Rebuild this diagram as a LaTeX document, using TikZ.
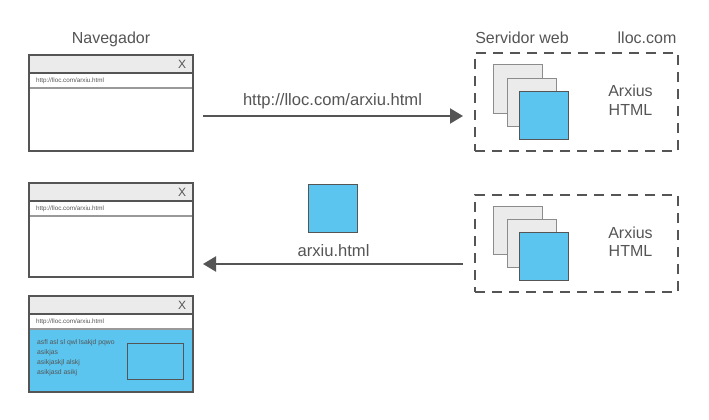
\documentclass[tikz,border=0pt]{standalone}
\usepackage{fontspec}
\setmainfont{Liberation Sans}
\usetikzlibrary{arrows.meta,calc}
\definecolor{ink}{HTML}{555555}
\definecolor{txt}{HTML}{555555}
\definecolor{bar}{HTML}{EBEBEB}
\definecolor{sky}{HTML}{5BC5EF}
\definecolor{mid}{HTML}{8C8C8C}
\definecolor{sep}{HTML}{999999}
\tikzset{
  winframe/.style={draw=ink, line width=2.4pt, fill=white, minimum width=164pt, inner sep=0pt, outer sep=0pt},
  bigtext/.style={text=txt, font=\fontsize{16}{18}\selectfont, inner sep=0pt},
  tinytext/.style={text=txt, font=\fontsize{6.3}{7}\selectfont, inner sep=0pt, anchor=west},
  bodytext/.style={text=txt, font=\fontsize{6.8}{7}\selectfont, inner sep=0pt, anchor=west},
  xmark/.style={text=txt, font=\fontsize{12}{12}\selectfont, inner sep=0pt},
  dashbox/.style={draw=ink, line width=2.2pt, dash pattern=on 10pt off 7pt, minimum width=203pt, inner sep=0pt, outer sep=0pt},
  graysq/.style={draw=mid, line width=1pt, fill=bar, minimum width=49pt, minimum height=48pt, inner sep=0pt},
  bluesq/.style={draw=ink, line width=1pt, fill=sky, minimum width=49pt, minimum height=48pt, inner sep=0pt},
  flow/.style={draw=ink, line width=2pt, -{Triangle[length=13pt,width=15pt]}},
}
\newcommand{\windowparts}[1]{%
  \fill[bar] ([shift={(1.2,1.2)}]#1.north west) rectangle ([shift={(-1.2,18)}]#1.north east);
  \draw[ink, line width=2pt] ([shift={(1.2,18)}]#1.north west) -- ([shift={(-1.2,18)}]#1.north east);
  \draw[sep, line width=1.5pt] ([shift={(1.2,33)}]#1.north west) -- ([shift={(-1.2,33)}]#1.north east);
}
\begin{document}
\begin{tikzpicture}[x=1pt,y=-1pt]
\useasboundingbox[fill=white] (0,0) rectangle (709,420);

% titles
\node[bigtext, anchor=base] (tnav) at (111,43.5) {Navegador};
\node[bigtext, anchor=base] (tsrv) at (522,43.5) {Servidor web};
\node[bigtext, anchor=base] (tloc) at (647,43.5) {lloc.com};

% browser windows
\node[winframe, minimum height=96pt] (w1) at (111,103) {};
\windowparts{w1}
\node[xmark] (x1) at ([shift={(-11,9.5)}]w1.north east) {X};
\node[tinytext] (u1) at ([shift={(7,25.5)}]w1.north west) {http://lloc.com/arxiu.html};
\draw[ink, line width=2.4pt] (w1.north west) rectangle (w1.south east);

\node[winframe, minimum height=94pt] (w2) at (111,230) {};
\windowparts{w2}
\node[xmark] (x2) at ([shift={(-11,9.5)}]w2.north east) {X};
\node[tinytext] (u2) at ([shift={(7,25.5)}]w2.north west) {http://lloc.com/arxiu.html};
\draw[ink, line width=2.4pt] (w2.north west) rectangle (w2.south east);

\node[winframe, minimum height=96pt] (w3) at (111,344) {};
\windowparts{w3}
\fill[sky] ([shift={(1.2,33.8)}]w3.north west) rectangle ([shift={(-1.2,-1.2)}]w3.south east);
\node[xmark] (x3) at ([shift={(-11,9.5)}]w3.north east) {X};
\node[tinytext] (u3) at ([shift={(7,25.5)}]w3.north west) {http://lloc.com/arxiu.html};
\node[bodytext] (l1) at ([shift={(8,47)}]w3.north west) {asfl asl sl qwl lsakjd pqwo};
\node[bodytext] (l2) at ([shift={(8,57)}]w3.north west) {asikjas};
\node[bodytext] (l3) at ([shift={(8,67)}]w3.north west) {asikjaskjl alskj};
\node[bodytext] (l4) at ([shift={(8,77)}]w3.north west) {asikjasd asikj};
\draw[ink, line width=1pt] ([shift={(-66,47)}]w3.north east) coordinate (img1) rectangle ([shift={(-10,83)}]w3.north east) coordinate (img2);
\draw[ink, line width=2.4pt] (w3.north west) rectangle (w3.south east);

% server boxes
\node[dashbox, minimum height=98pt] (s1) at (576.5,102) {};
\node[graysq] (s1a) at (518,89) {};
\node[graysq] (s1b) at (531.5,102) {};
\node[bluesq] (s1c) at (543.5,115) {};
\node[bigtext, anchor=base] (s1t1) at (630.5,96.5) {Arxius};
\node[bigtext, anchor=base] (s1t2) at (630.5,115) {HTML};

\node[dashbox, minimum height=97pt] (s2) at (576.5,243.5) {};
\node[graysq] (s2a) at (518,230) {};
\node[graysq] (s2b) at (531.5,243) {};
\node[bluesq] (s2c) at (543.5,256) {};
\node[bigtext, anchor=base] (s2t1) at (630.5,238) {Arxius};
\node[bigtext, anchor=base] (s2t2) at (630.5,256.5) {HTML};

% request arrow
\coordinate (a1s) at (203,116);
\coordinate (a1e) at (463,116);
\draw[flow] (a1s) -- (a1e);
\node[bigtext, anchor=base, font=\fontsize{16.6}{18}\selectfont] (req) at (332.5,105) {http://lloc.com/arxiu.html};

% response arrow
\node[bluesq] (doc) at (332.5,208.5) {};
\node[bigtext, anchor=base, font=\fontsize{16.6}{18}\selectfont] (resp) at (333.5,256) {arxiu.html};
\coordinate (a2s) at (463,264);
\coordinate (a2e) at (203,264);
\draw[flow] (a2s) -- (a2e);
\end{tikzpicture}
\end{document}
